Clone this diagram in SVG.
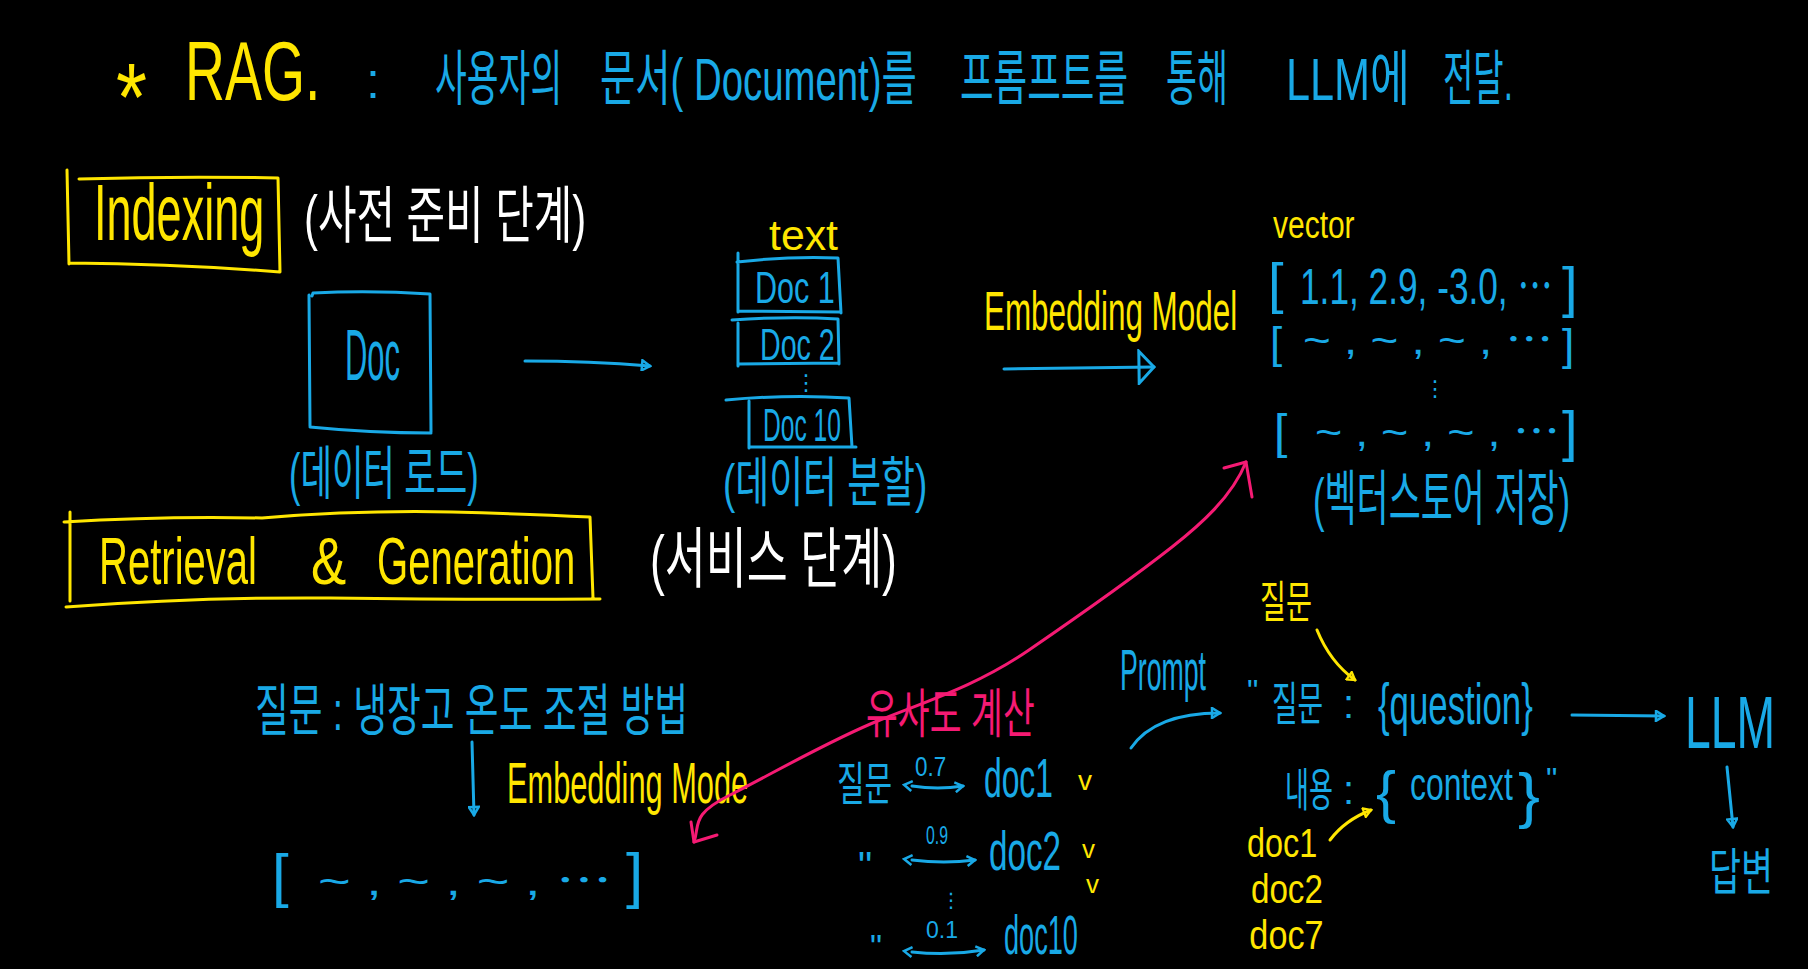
<svg xmlns="http://www.w3.org/2000/svg" width="1808" height="969" viewBox="0 0 1808 969">
<defs>
<style>
text{font-family:"Liberation Sans","Noto Sans CJK KR",sans-serif;font-weight:400}
.dv{font-family:"DejaVu Sans",sans-serif}
.y{fill:#FFE600}.b{fill:#19A9E6}.w{fill:#FFFFFF}.p{fill:#F51A73}
.sy{stroke:#FFE600;fill:none;stroke-width:3;stroke-linecap:round;stroke-linejoin:round}
.sb{stroke:#19A9E6;fill:none;stroke-width:3;stroke-linecap:round;stroke-linejoin:round}
.sp{stroke:#F51A73;fill:none;stroke-width:3;stroke-linecap:round;stroke-linejoin:round}
</style>
<marker id="mb" viewBox="0 0 12 12" refX="10" refY="6" markerWidth="12" markerHeight="12" markerUnits="userSpaceOnUse" orient="auto"><path d="M2,1 L10,6 L2,11 Z" fill="none" stroke="#19A9E6" stroke-width="2.5"/></marker>
<marker id="mbs" viewBox="0 0 12 12" refX="2" refY="6" markerWidth="12" markerHeight="12" markerUnits="userSpaceOnUse" orient="auto-start-reverse"><path d="M2,1 L10,6 L2,11" fill="none" stroke="#19A9E6" stroke-width="2.5"/></marker>
<marker id="mbe" viewBox="0 0 12 12" refX="10" refY="6" markerWidth="12" markerHeight="12" markerUnits="userSpaceOnUse" orient="auto"><path d="M2,1 L10,6 L2,11" fill="none" stroke="#19A9E6" stroke-width="2.5"/></marker>
<marker id="mbig" viewBox="0 0 20 36" refX="18" refY="18" markerWidth="20" markerHeight="36" markerUnits="userSpaceOnUse" orient="auto"><path d="M3,2 L18,18 L3,34 Z" fill="none" stroke="#19A9E6" stroke-width="3"/></marker>
<marker id="my" viewBox="0 0 12 12" refX="10" refY="6" markerWidth="11" markerHeight="11" markerUnits="userSpaceOnUse" orient="auto"><path d="M2,1 L10,6 L2,11 Z" fill="none" stroke="#FFE600" stroke-width="2.5"/></marker>
</defs>
<rect x="0" y="0" width="1808" height="969" fill="#000"/>

<g id="title">
<text class="y" x="116" y="130" font-size="96" textLength="31" lengthAdjust="spacingAndGlyphs">*</text>
<text class="y" transform="translate(185 100) scale(0.66 1)" font-size="84" textLength="205" lengthAdjust="spacingAndGlyphs">RAG.</text>
<text class="b" x="366" y="98" font-size="50">:</text>
<text class="b" transform="translate(435 100) scale(0.53 1)" font-size="60" textLength="240" lengthAdjust="spacingAndGlyphs">사용자의</text>
<text class="b" transform="translate(600 100) scale(0.62 1)" font-size="60" textLength="511" lengthAdjust="spacingAndGlyphs">문서( Document)를</text>
<text class="b" transform="translate(960 100) scale(0.56 1)" font-size="60" textLength="300" lengthAdjust="spacingAndGlyphs">프롬프트를</text>
<text class="b" transform="translate(1166 100) scale(0.52 1)" font-size="60" textLength="119" lengthAdjust="spacingAndGlyphs">통해</text>
<text class="b" transform="translate(1286 100) scale(0.7 1)" font-size="60" textLength="177" lengthAdjust="spacingAndGlyphs">LLM에</text>
<text class="b" transform="translate(1443 100) scale(0.51 1)" font-size="60" textLength="137" lengthAdjust="spacingAndGlyphs">전달.</text>
</g>

<g id="indexing">
<path class="sy" d="M67,170 L69,264 M79,179 Q180,176 278,178 L280,272 M69,263 Q180,264 280,272"/>
<text class="y" transform="translate(94 240) scale(0.56 1)" font-size="80" textLength="304" lengthAdjust="spacingAndGlyphs">Indexing</text>
<text class="w" transform="translate(304 238) scale(0.63 1)" font-size="62" textLength="448" lengthAdjust="spacingAndGlyphs">(사전 준비 단계)</text>
</g>

<g id="doc">
<path class="sb" d="M312,296 L313,293 Q370,290 430,294 L431,432 M310,426 L309,295 M310,427 Q370,433 431,433"/>
<text class="b" transform="translate(345 380) scale(0.43 1)" font-size="72" textLength="128" lengthAdjust="spacingAndGlyphs">Doc</text>
<text class="b" transform="translate(289 494) scale(0.55 1)" font-size="58" textLength="345" lengthAdjust="spacingAndGlyphs">(데이터 로드)</text>
</g>

<g id="split">
<text class="y" x="769" y="250" font-size="42" textLength="69" lengthAdjust="spacingAndGlyphs">text</text>
<path class="sb" d="M738,253 L738,312 M737,262 Q790,256 838,258 L841,313 M738,311 L841,312"/>
<text class="b" transform="translate(755 303) scale(0.7 1)" font-size="44" textLength="114" lengthAdjust="spacingAndGlyphs">Doc 1</text>
<path class="sb" d="M732,320 Q790,316 838,319 L839,364 M738,323 L738,366 M738,364 L839,363"/>
<text class="b" transform="translate(760 360) scale(0.65 1)" font-size="44" textLength="115" lengthAdjust="spacingAndGlyphs">Doc 2</text>
<text class="b dv" x="795" y="390" font-size="22">⋮</text>
<path class="sb" d="M726,400 Q790,394 849,398 L852,447 M749,401 L749,448 M749,447 L856,447"/>
<text class="b" transform="translate(763 441) scale(0.53 1)" font-size="46" textLength="147" lengthAdjust="spacingAndGlyphs">Doc 10</text>
<text class="b" transform="translate(723 502) scale(0.64 1)" font-size="54" textLength="319" lengthAdjust="spacingAndGlyphs">(데이터 분할)</text>
</g>

<g id="embed-label">
<text class="y" transform="translate(984 330) scale(0.56 1)" font-size="56" textLength="452" lengthAdjust="spacingAndGlyphs">Embedding Model</text>
</g>

<g id="vectorstore">
<text class="y" transform="translate(1273 238) scale(0.8 1)" font-size="38" textLength="102" lengthAdjust="spacingAndGlyphs">vector</text>
<text class="b" x="1268" y="302" font-size="56">[</text>
<text class="b" transform="translate(1300 304) scale(0.7 1)" font-size="50" textLength="361" lengthAdjust="spacingAndGlyphs">1.1, 2.9, -3.0, ⋯</text>
<text class="b" x="1562" y="306" font-size="56">]</text>
<text class="b" x="1270" y="358" font-size="44">[</text>
<text class="b" x="1303" y="354" font-size="40" textLength="250" lengthAdjust="spacingAndGlyphs">~ , ~ , ~ , ⋯</text>
<text class="b" x="1562" y="360" font-size="44">]</text>
<text class="b dv" x="1424" y="396" font-size="22">⋮</text>
<text class="b" x="1274" y="448" font-size="48">[</text>
<text class="b" x="1315" y="446" font-size="40" textLength="245" lengthAdjust="spacingAndGlyphs">~ , ~ , ~ , ⋯</text>
<text class="b" x="1562" y="450" font-size="56">]</text>
<text class="b" transform="translate(1313 520) scale(0.54 1)" font-size="60" textLength="476" lengthAdjust="spacingAndGlyphs">(벡터스토어 저장)</text>
</g>

<g id="retrieval">
<path class="sy" d="M70,512 L70,601 M64,522 Q160,516 262,518 Q360,510 452,512 Q530,514 590,517 L593,598 M66,607 Q200,597 330,598 Q470,600 600,599"/>
<text class="y" transform="translate(99 584) scale(0.61 1)" font-size="66" textLength="259" lengthAdjust="spacingAndGlyphs">Retrieval</text>
<text class="y" transform="translate(311 584) scale(0.8 1)" font-size="66" textLength="44" lengthAdjust="spacingAndGlyphs">&amp;</text>
<text class="y" transform="translate(377 584) scale(0.61 1)" font-size="66" textLength="325" lengthAdjust="spacingAndGlyphs">Generation</text>
<text class="w" transform="translate(650 582) scale(0.63 1)" font-size="66" textLength="392" lengthAdjust="spacingAndGlyphs">(서비스 단계)</text>
</g>

<g id="query">
<text class="b" transform="translate(255 730) scale(0.61 1)" font-size="56" textLength="710" lengthAdjust="spacingAndGlyphs">질문 : 냉장고 온도 조절 방법</text>
<text class="y" transform="translate(507 803) scale(0.53 1)" font-size="58" textLength="455" lengthAdjust="spacingAndGlyphs">Embedding Mode</text>
<text class="b" x="272" y="896" font-size="60">[</text>
<text class="b" x="318" y="895" font-size="40" textLength="294" lengthAdjust="spacingAndGlyphs">~ , ~ , ~ , ⋯</text>
<text class="b" x="626" y="896" font-size="62">]</text>
</g>

<g id="similarity">
<text class="p" transform="translate(866 733) scale(0.59 1)" font-size="54" textLength="286" lengthAdjust="spacingAndGlyphs">유사도 계산</text>
<text class="b" transform="translate(837 800) scale(0.6 1)" font-size="46" textLength="92" lengthAdjust="spacingAndGlyphs">질문</text>
<text class="b" transform="translate(915 776) scale(0.8 1)" font-size="28" textLength="39" lengthAdjust="spacingAndGlyphs">0.7</text>
<text class="b" transform="translate(984 797) scale(0.57 1)" font-size="56" textLength="121" lengthAdjust="spacingAndGlyphs">doc1</text>
<text class="y" x="1078" y="790" font-size="28">v</text>
<text class="b" x="858" y="880" font-size="40">"</text>
<text class="b" transform="translate(926 844) scale(0.61 1)" font-size="26" textLength="36" lengthAdjust="spacingAndGlyphs">0.9</text>
<text class="b" transform="translate(989 870) scale(0.6 1)" font-size="56" textLength="120" lengthAdjust="spacingAndGlyphs">doc2</text>
<text class="y" x="1082" y="858" font-size="26">v</text>
<text class="y" x="1086" y="893" font-size="26">v</text>
<text class="b dv" x="941" y="907" font-size="20">⋮</text>
<text class="b" x="870" y="958" font-size="34">"</text>
<text class="b" x="926" y="938" font-size="24" textLength="32" lengthAdjust="spacingAndGlyphs">0.1</text>
<text class="b" transform="translate(1004 954) scale(0.48 1)" font-size="56" textLength="154" lengthAdjust="spacingAndGlyphs">doc10</text>
</g>

<g id="prompt">
<text class="y" transform="translate(1260 618) scale(0.59 1)" font-size="44" textLength="88" lengthAdjust="spacingAndGlyphs">질문</text>
<text class="b" transform="translate(1120 690) scale(0.46 1)" font-size="58" textLength="187" lengthAdjust="spacingAndGlyphs">Prompt</text>
<text class="b" x="1247" y="702" font-size="32">"</text>
<text class="b" transform="translate(1272 720) scale(0.55 1)" font-size="46" textLength="93" lengthAdjust="spacingAndGlyphs">질문</text>
<text class="b" x="1343" y="718" font-size="40">:</text>
<text class="b" transform="translate(1378 724) scale(0.6 1)" font-size="58" textLength="258" lengthAdjust="spacingAndGlyphs">{question}</text>
<text class="b" transform="translate(1285 806) scale(0.52 1)" font-size="46" textLength="92" lengthAdjust="spacingAndGlyphs">내용</text>
<text class="b" x="1343" y="804" font-size="40">:</text>
<text class="b" x="1376" y="812" font-size="58" textLength="20" lengthAdjust="spacingAndGlyphs">{</text>
<text class="b" transform="translate(1410 800) scale(0.7 1)" font-size="46" textLength="147" lengthAdjust="spacingAndGlyphs">context</text>
<text class="b" x="1518" y="816" font-size="62" textLength="22" lengthAdjust="spacingAndGlyphs">}</text>
<text class="b" x="1546" y="790" font-size="32">"</text>
<text class="y" transform="translate(1247 857) scale(0.79 1)" font-size="41"><tspan x="0" y="0" textLength="89" lengthAdjust="spacingAndGlyphs">doc1</tspan><tspan x="5" y="46" textLength="91" lengthAdjust="spacingAndGlyphs">doc2</tspan><tspan x="3" y="92" textLength="94" lengthAdjust="spacingAndGlyphs">doc7</tspan></text>
</g>

<g id="llm">
<text class="b" transform="translate(1685 748) scale(0.63 1)" font-size="74" textLength="143" lengthAdjust="spacingAndGlyphs">LLM</text>
<text class="b" transform="translate(1709 890) scale(0.64 1)" font-size="50" textLength="100" lengthAdjust="spacingAndGlyphs">답변</text>
</g>

<g id="connectors">
<path class="sb" d="M525,361 Q590,361 650,366" marker-end="url(#mb)"/>
<path class="sb" d="M1004,369 L1154,367" marker-end="url(#mbig)"/>
<path class="sb" d="M472,742 L474,815" marker-end="url(#mb)"/>
<path class="sb" d="M912,786 Q938,790 963,786" marker-start="url(#mbs)" marker-end="url(#mbe)"/>
<path class="sb" d="M912,860 Q944,864 975,860" marker-start="url(#mbs)" marker-end="url(#mbe)"/>
<path class="sb" d="M912,952 Q948,956 984,950" marker-start="url(#mbs)" marker-end="url(#mbe)"/>
<path class="sb" d="M1131,748 Q1155,713 1220,713" marker-end="url(#mb)"/>
<path class="sb" d="M1572,715 L1664,716" marker-end="url(#mb)"/>
<path class="sb" d="M1727,767 L1733,827" marker-end="url(#mb)"/>
<path class="sy" d="M1317,630 Q1330,662 1355,680" marker-end="url(#my)"/>
<path class="sy" d="M1330,840 Q1345,820 1371,810" marker-end="url(#my)"/>
<path class="sp" d="M1246,462 C1232,497 1200,525 1172,547 S1080,615 1029,650 S930,700 880,720 S770,775 730,795 S700,825 694,842"/>
<path class="sp" d="M1224,468 L1246,462 L1252,497"/>
<path class="sp" d="M691,822 L694,842 L717,835"/>
</g>
</svg>
